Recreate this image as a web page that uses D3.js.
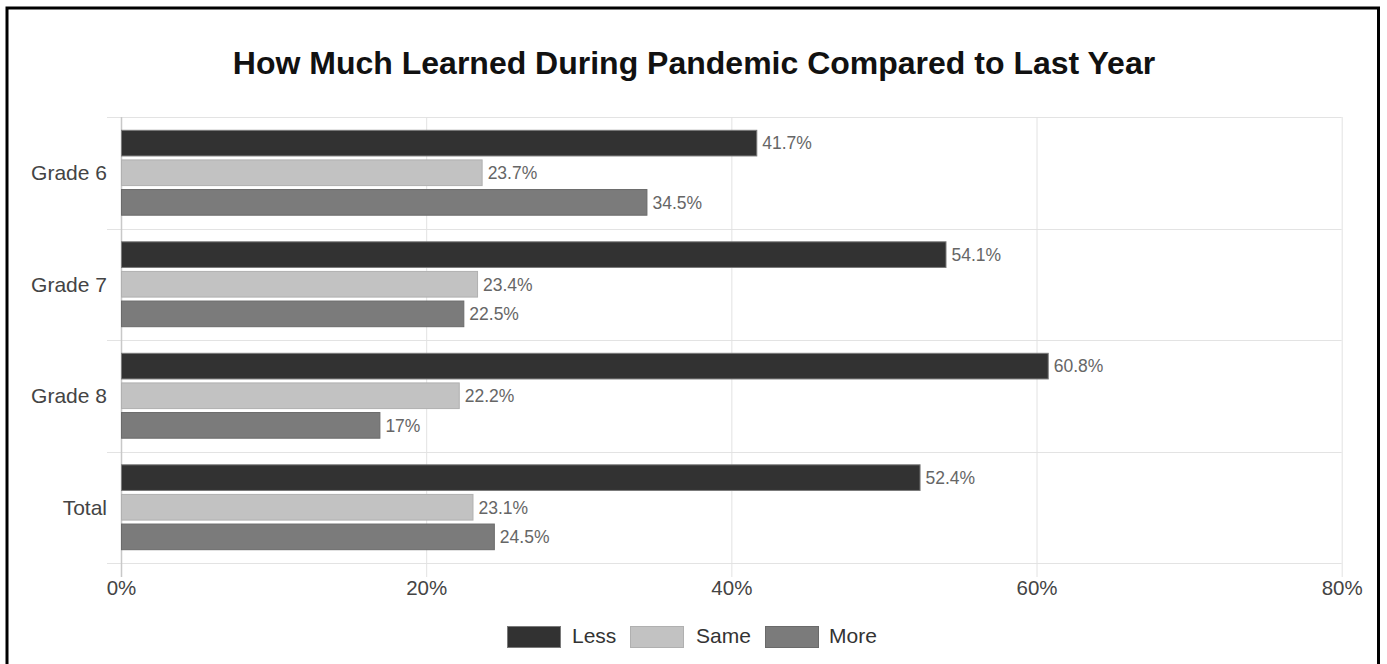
<!DOCTYPE html>
<html>
<head>
<meta charset="utf-8">
<script src="https://cdn.jsdelivr.net/npm/d3@7"></script>
<style>
  html, body { margin: 0; padding: 0; background: #fff; }
  svg { display: block; font-family: "Liberation Sans", Arial, sans-serif; }
</style>
</head>
<body>
<svg id="chart" width="1387" height="664"></svg>
<script>
const title = "How Much Learned During Pandemic Compared to Last Year";
const categories = ["Grade 6", "Grade 7", "Grade 8", "Total"];
const seriesNames = ["Less", "Same", "More"];
const lessValues = [41.7, 54.1, 60.8, 52.4];
const sameValues = [23.7, 23.4, 22.2, 23.1];
const moreValues = [34.5, 22.5, 17, 24.5];
const xTicks = [0, 20, 40, 60, 80];
const valueLabels = [
  ["41.7%", "54.1%", "60.8%", "52.4%"],
  ["23.7%", "23.4%", "22.2%", "23.1%"],
  ["34.5%", "22.5%", "17%", "24.5%"]
];

const fills = ["#323232", "#c2c2c2", "#7b7b7b"];
const strokes = ["#7a7a7a", "#b0b0b0", "#6a6a6a"];

const series = [lessValues, sameValues, moreValues];

const W = 1387, H = 664;
const svg = d3.select("#chart");

// frame
svg.append("rect").attr("x", 7).attr("y", 8).attr("width", 1371.5).attr("height", 680)
  .attr("fill", "none").attr("stroke", "#000").attr("stroke-width", 3);

const plot = { left: 121, right: 1341.7, top: 117, bottom: 563 };

const x = d3.scaleLinear().domain([0, 80]).range([plot.left, plot.right]);
const y = d3.scaleBand().domain(categories).range([plot.top, plot.bottom]).padding(0);
const inner = d3.scaleBand().domain(seriesNames)
  .range([12.8, y.bandwidth() - 12.8]).paddingInner(0.1).paddingOuter(0);

// title
svg.append("text").attr("x", 694).attr("y", 74).attr("text-anchor", "middle")
  .attr("font-size", 32).attr("font-weight", "bold").attr("fill", "#111").text(title);

// horizontal grid lines (category boundaries)
const g = svg.append("g");
const boundaries = categories.map(c => y(c)).concat([plot.bottom]);
g.selectAll("line.h").data(boundaries).join("line")
  .attr("x1", plot.left - 14).attr("x2", plot.right)
  .attr("y1", d => Math.round(d) + 0.5).attr("y2", d => Math.round(d) + 0.5)
  .attr("stroke", "#e3e3e3").attr("stroke-width", 1);

// vertical grid lines via axis
const xAxis = d3.axisBottom(x).tickValues(xTicks).tickFormat(d => d + "%")
  .tickSize(-(plot.bottom - plot.top) - 14).tickPadding(6);
const ax = svg.append("g").attr("transform", `translate(0,${plot.bottom + 14})`).call(xAxis);
ax.select(".domain").remove();
ax.selectAll(".tick line").attr("stroke", "#e3e3e3").attr("stroke-width", 1);
ax.selectAll(".tick").filter(d => d === 0).select("line").attr("stroke", "#c8c8c8").attr("stroke-width", 1.5);
ax.selectAll(".tick text").attr("font-size", 20.5).attr("fill", "#444")
  .attr("font-family", "Liberation Sans, Arial, sans-serif").attr("dy", "0.71em").attr("y", 3);

// category labels
svg.append("g").selectAll("text").data(categories).join("text")
  .attr("x", 107).attr("y", d => y(d) + y.bandwidth() / 2)
  .attr("dy", "0.36em").attr("text-anchor", "end")
  .attr("font-size", 21).attr("fill", "#444").text(d => d);

// bars
const bars = svg.append("g");
series.forEach((vals, si) => {
  const name = seriesNames[si];
  bars.append("g").selectAll("rect").data(vals).join("rect")
    .attr("x", x(0) + 0.5)
    .attr("y", (d, i) => y(categories[i]) + inner(name) + 0.5)
    .attr("width", d => x(d) - x(0) - 1)
    .attr("height", inner.bandwidth() - 1)
    .attr("fill", fills[si]).attr("stroke", strokes[si]).attr("stroke-width", 1);
  bars.append("g").selectAll("text").data(vals).join("text")
    .attr("x", d => x(d) + 5)
    .attr("y", (d, i) => y(categories[i]) + inner(name) + inner.bandwidth() / 2)
    .attr("dy", "0.36em").attr("font-size", 17.5).attr("fill", "#666")
    .text((d, i) => valueLabels[si][i]);
});

// legend
const legendItems = [
  { name: "Less", box: 507, text: 572 },
  { name: "Same", box: 630, text: 696 },
  { name: "More", box: 765, text: 829 }
];
const lg = svg.append("g");
legendItems.forEach((it, i) => {
  lg.append("rect").attr("x", it.box + 0.5).attr("y", 626.5).attr("width", 53).attr("height", 21)
    .attr("fill", fills[i]).attr("stroke", strokes[i]).attr("stroke-width", 1);
  lg.append("text").attr("x", it.text).attr("y", 643).attr("font-size", 21)
    .attr("fill", "#333").text(seriesNames[i]);
});
</script>
</body>
</html>
